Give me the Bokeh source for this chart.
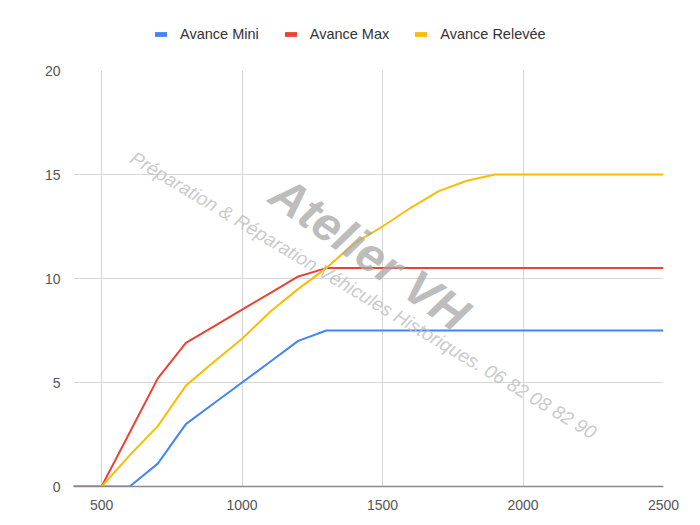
from bokeh.plotting import figure
from bokeh.layouts import column
from bokeh.models import Range1d, FixedTicker, Legend, LegendItem, Label
from bokeh.embed import file_html
from bokeh.resources import INLINE

# ---- data ----
rpm = [400, 500, 600, 700, 800, 900, 1000, 1100, 1200, 1300, 1400, 1500, 1600,
       1700, 1800, 1900, 2000, 2100, 2200, 2300, 2400, 2500]
avance_mini = [0, 0, 0, 1.1, 3.0, 4.0, 5.0, 6.0, 7.0, 7.5, 7.5, 7.5, 7.5,
               7.5, 7.5, 7.5, 7.5, 7.5, 7.5, 7.5, 7.5, 7.5]
avance_max = [0, 0, 2.6, 5.2, 6.9, 7.7, 8.5, 9.3, 10.1, 10.5, 10.5, 10.5, 10.5,
              10.5, 10.5, 10.5, 10.5, 10.5, 10.5, 10.5, 10.5, 10.5]
avance_relevee = [0, 0, 1.5, 2.9, 4.85, 6.0, 7.1, 8.4, 9.5, 10.5, 11.7, 12.5, 13.4,
                  14.2, 14.7, 15.0, 15.0, 15.0, 15.0, 15.0, 15.0, 15.0]
series_names = ["Avance Mini", "Avance Max", "Avance Relevée"]
colors = ["#4285F4", "#EA4335", "#FBBC04"]
x_ticks = [500, 1000, 1500, 2000, 2500]
y_ticks = [0, 5, 10, 15, 20]

FONT = "Liberation Sans"

# ---- legend strip (top) ----
lg = figure(width=700, height=62, output_backend="svg", toolbar_location=None,
            x_range=Range1d(0, 1), y_range=Range1d(0, 1),
            min_border_left=0, min_border_right=0, min_border_top=0, min_border_bottom=0)
lg.axis.visible = False
lg.grid.visible = False
lg.outline_line_color = None
lg.border_fill_color = "white"

# ---- main chart ----
p = figure(width=700, height=463, output_backend="svg", toolbar_location=None,
           x_range=Range1d(400, 2500), y_range=Range1d(0, 20),
           min_border_left=73, min_border_right=37, min_border_top=8,
           min_border_bottom=39)
p.outline_line_color = None
p.background_fill_color = "white"
p.border_fill_color = "white"

p.xaxis.ticker = FixedTicker(ticks=x_ticks)
p.yaxis.ticker = FixedTicker(ticks=y_ticks)
for ax in (p.xaxis[0], p.yaxis[0]):
    ax.major_tick_line_color = None
    ax.minor_tick_line_color = None
    ax.major_label_text_font = FONT
    ax.major_label_text_font_size = "14px"
    ax.major_label_text_color = "#555555"
    ax.major_label_standoff = 7
p.xaxis.axis_line_color = "#8a8a8a"
p.xaxis.axis_line_width = 1.5
p.yaxis.axis_line_color = None

p.xgrid.grid_line_color = "#d6d6d6"
p.ygrid.grid_line_color = "#d6d6d6"

# watermark texts
p.add_layout(Label(x=1455, y=11.2, text="Atelier VH", angle=-35, angle_units="deg",
                   text_font=FONT, text_font_size="48px", text_font_style="bold italic",
                   text_color="#a8a8a8", text_alpha=0.75, text_align="center",
                   text_baseline="middle"))
p.add_layout(Label(x=1432, y=9.2,
                   text="Préparation & Réparation Véhicules Historiques. 06 82 08 82 90",
                   angle=-31, angle_units="deg", text_font=FONT, text_font_size="19px",
                   text_font_style="italic", text_color="#bdbdbd", text_alpha=0.8,
                   text_align="center", text_baseline="middle"))

items = []
for name, vals, col in zip(series_names, [avance_mini, avance_max, avance_relevee], colors):
    p.line(rpm, vals, line_color=col, line_width=2)
    # legend swatch renderer: lies outside the strip's visible range, only its legend glyph shows
    proxy = lg.rect(x=rpm, y=vals, width=1, height=1, fill_color=col, line_color=None)
    items.append(LegendItem(label=name, renderers=[proxy]))

legend = Legend(items=items, orientation="horizontal", location=(80, 20),
                glyph_width=15, glyph_height=6, label_standoff=12, spacing=24,
                padding=0, margin=0, border_line_color=None, background_fill_alpha=0,
                label_text_font=FONT, label_text_font_size="14.5px",
                label_text_color="#333333")
lg.add_layout(legend, "center")

layout = column(lg, p, spacing=0)
open("out.html", "w").write(file_html(layout, INLINE))
